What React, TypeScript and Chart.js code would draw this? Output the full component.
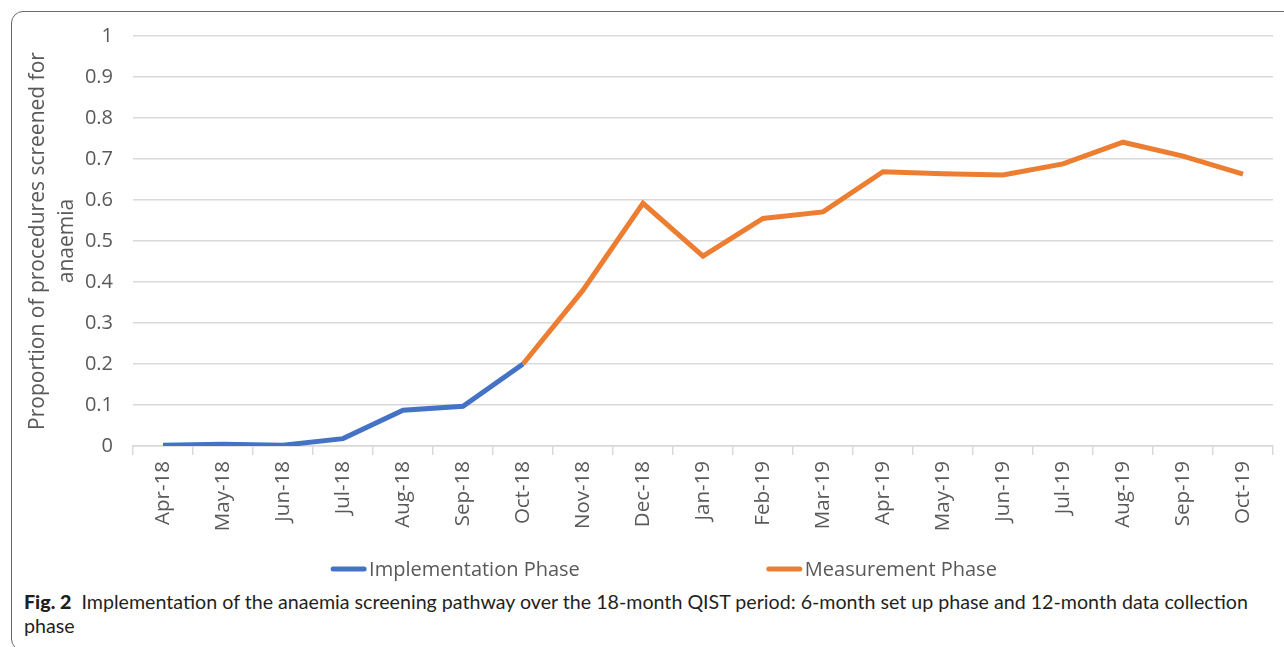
import React, { useEffect, useRef } from "react";
import { Chart, registerables } from "chart.js";

Chart.register(...registerables);

const months = [
  "Apr-18", "May-18", "Jun-18", "Jul-18", "Aug-18", "Sep-18", "Oct-18",
  "Nov-18", "Dec-18", "Jan-19", "Feb-19", "Mar-19", "Apr-19", "May-19",
  "Jun-19", "Jul-19", "Aug-19", "Sep-19", "Oct-19",
];

const implementationPhase: (number | null)[] = [
  0.002, 0.004, 0.002, 0.018, 0.087, 0.097, 0.2,
  null, null, null, null, null, null, null, null, null, null, null, null,
];

const measurementPhase: (number | null)[] = [
  null, null, null, null, null, null,
  0.2, 0.38, 0.592, 0.463, 0.555, 0.571, 0.669, 0.664, 0.661, 0.688, 0.741, 0.707, 0.663,
];

const yTicks = [0, 0.1, 0.2, 0.3, 0.4, 0.5, 0.6, 0.7, 0.8, 0.9, 1];

const seriesNames = ["Implementation Phase", "Measurement Phase"];
const seriesColors = ["#4472C4", "#ED7D31"];

const FONT = "'Open Sans', 'Noto Sans', sans-serif";
const GREY = "#595959";

const legendPlugin = {
  id: "bottomLineLegend",
  afterDraw(chart: any) {
    const ctx = chart.ctx as CanvasRenderingContext2D;
    const datasets = chart.data.datasets;
    const boxW = 35;
    const gapText = 3;
    const gapItem = 187;
    const y = 565;
    const centerX = 652;
    ctx.save();
    ctx.font = `20px ${FONT}`;
    ctx.textBaseline = "middle";
    ctx.textAlign = "left";
    const widths = datasets.map((d: any) => boxW + gapText + ctx.measureText(d.label).width);
    const total = widths.reduce((a: number, b: number) => a + b, 0) + gapItem * (datasets.length - 1);
    let x = centerX - total / 2;
    datasets.forEach((d: any, i: number) => {
      ctx.strokeStyle = d.borderColor;
      ctx.lineWidth = 5;
      ctx.lineCap = "round";
      ctx.beginPath();
      ctx.moveTo(x + 2, y);
      ctx.lineTo(x + boxW - 2, y);
      ctx.stroke();
      ctx.fillStyle = GREY;
      ctx.fillText(d.label, x + boxW + gapText, y + 1);
      x += widths[i] + gapItem;
    });
    ctx.restore();
  },
};

export default function App() {
  const canvasRef = useRef<HTMLCanvasElement | null>(null);

  useEffect(() => {
    if (!canvasRef.current) return;
    const chart = new Chart(canvasRef.current, {
      type: "line",
      data: {
        labels: months,
        datasets: [
          {
            label: seriesNames[0],
            data: implementationPhase,
            borderColor: seriesColors[0],
            backgroundColor: seriesColors[0],
            borderWidth: 5,
            pointRadius: 0,
            tension: 0,
            spanGaps: false,
          },
          {
            label: seriesNames[1],
            data: measurementPhase,
            borderColor: seriesColors[1],
            backgroundColor: seriesColors[1],
            borderWidth: 5,
            pointRadius: 0,
            tension: 0,
            spanGaps: false,
          },
        ],
      },
      options: {
        animation: false,
        responsive: false,
        maintainAspectRatio: false,
        layout: { padding: { left: 0, right: 11, top: 10, bottom: 50 } },
        plugins: {
          legend: { display: false },
          tooltip: { enabled: false },
          title: { display: false },
        },
        scales: {
          x: {
            type: "category",
            offset: true,
            grid: {
              offset: true,
              drawOnChartArea: false,
              drawTicks: true,
              tickLength: 9,
              color: "#d9d9d9",
              lineWidth: 1.5,
            },
            border: { display: true, color: "#d9d9d9", width: 1.5 },
            ticks: {
              autoSkip: false,
              maxRotation: 90,
              minRotation: 90,
              padding: 6,
              color: GREY,
              font: { family: FONT, size: 20.5 },
            },
            afterFit: (scale: any) => {
              scale.height = 94;
            },
          },
          y: {
            min: 0,
            max: 1,
            afterBuildTicks: (scale: any) => {
              scale.ticks = yTicks.map((v) => ({ value: v }));
            },
            grid: {
              drawTicks: false,
              color: "#d9d9d9",
              lineWidth: 1.5,
            },
            border: { display: false },
            ticks: {
              padding: 20,
              color: GREY,
              font: { family: FONT, size: 20 },
              callback: (v: any) => String(Math.round(Number(v) * 10) / 10),
            },
            title: {
              display: true,
              text: ["Proportion of procedures screened for", "anaemia"],
              color: GREY,
              font: { family: FONT, size: 21, lineHeight: 1.38 },
              padding: { top: 12, bottom: 0 },
            },
            afterFit: (scale: any) => {
              scale.width = 121;
            },
          },
        },
      },
      plugins: [legendPlugin],
    });
    return () => chart.destroy();
  }, []);

  return (
    <div
      style={{
        position: "fixed",
        left: 0,
        top: 0,
        width: 1284,
        height: 647,
        overflow: "hidden",
        background: "#fff",
      }}
    >
      <div
        style={{
          position: "absolute",
          left: 11,
          top: 11,
          width: 1300,
          height: 640,
          border: "1.5px solid #6a6a6a",
          borderRadius: 12,
          boxSizing: "border-box",
        }}
      />
      <canvas
        ref={canvasRef}
        width={1272}
        height={586}
        style={{ position: "absolute", left: 12, top: 4, width: 1272, height: 586 }}
      />
      <div
        style={{
          position: "absolute",
          left: 24,
          top: 590,
          width: 1236,
          fontFamily: "Lato, 'Noto Sans', sans-serif",
          fontSize: 19.65,
          lineHeight: "24px",
          color: "#231f20",
        }}
      >
        <b style={{ fontWeight: 900 }}>Fig. 2</b>&nbsp; Implementation of the anaemia screening pathway over the 18-month QIST period: 6-month set up phase and 12-month data collection phase
      </div>
    </div>
  );
}
